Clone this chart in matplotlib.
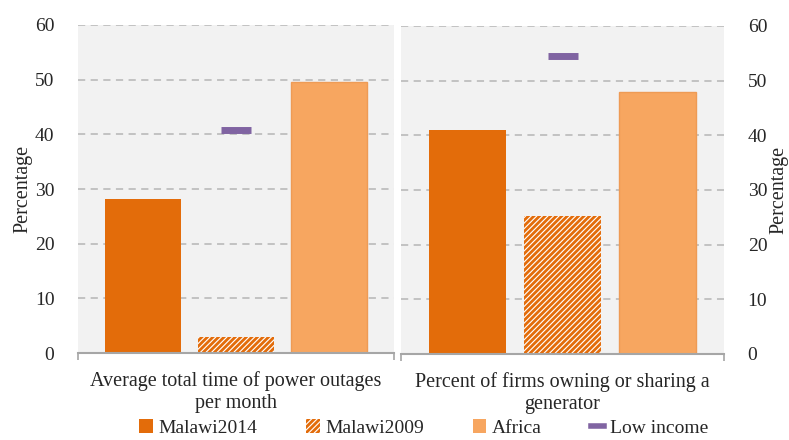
import matplotlib.pyplot as plt
import matplotlib.patches as mpatches
from matplotlib.lines import Line2D

plt.rcParams['font.family'] = ['Liberation Serif', 'DejaVu Serif']
plt.rcParams['hatch.linewidth'] = 2.0

series = ['Malawi2014', 'Malawi2009', 'Africa']
panels = ['Average total time of power outages\nper month',
          'Percent of firms owning or sharing a\ngenerator']
malawi2014 = [28.2, 40.9]
malawi2009 = [2.9, 25.2]
africa = [49.6, 48.0]
low_income = [40.8, 54.5]
yticks = [0, 10, 20, 30, 40, 50, 60]

c2014 = '#E36C0A'
cafr = '#F7A660'
clow = '#8064A2'
bg = '#F2F2F2'
grid_c = '#BFBFBF'
axis_c = '#A6A6A6'
txt = '#262626'

fig = plt.figure(figsize=(7.89, 4.40), dpi=100)
ax1 = fig.add_axes([0.0989, 0.1977, 0.4005, 0.7455])
ax2 = fig.add_axes([0.5083, 0.1955, 0.4094, 0.7455])

for i, ax in enumerate([ax1, ax2]):
    ax.set_facecolor(bg)
    ax.set_axisbelow(True)
    ax.bar(-1, malawi2014[i], width=0.81, color=c2014, linewidth=0)
    ax.bar(0, malawi2009[i], width=0.81, color='white', edgecolor=c2014,
           hatch='//////', linewidth=0)
    ax.bar(1, africa[i], width=0.81, color=cafr, edgecolor='#EE9B55', linewidth=1)
    ax.plot([0], [low_income[i]], marker='_', color=clow, markersize=21,
            markeredgewidth=5, linestyle='none')
    ax.set_xlim(-1.7, 1.7)
    ax.set_ylim(0, 60)
    ax.set_yticks(yticks)
    ax.set_xticks([0])
    ax.set_xticklabels([panels[i]], fontsize=14.5, color=txt, linespacing=1.2)
    ax.set_xticks([-1.7, 1.7], minor=True)
    ax.tick_params(axis='x', which='major', length=0, pad=13)
    ax.tick_params(axis='x', which='minor', length=5, width=1.2, color=axis_c,
                   direction='out')
    ax.tick_params(axis='y', length=0, labelsize=14, labelcolor=txt, pad=17)
    ax.yaxis.grid(True, color=grid_c, linestyle=(0, (4, 3)), linewidth=1.3)
    for s in ['top', 'left', 'right']:
        ax.spines[s].set_visible(False)
    ax.spines['bottom'].set_color(axis_c)
    ax.spines['bottom'].set_linewidth(1.5)
    ax.set_ylabel('Percentage', fontsize=14.5, color=txt)

ax1.yaxis.set_label_coords(-0.145, 0.5)
ax2.yaxis.tick_right()
ax2.yaxis.set_label_position('right')
ax2.yaxis.set_label_coords(1.142, 0.5)

handles = [
    mpatches.Patch(facecolor=c2014, edgecolor='none', label=series[0]),
    mpatches.Patch(facecolor='white', edgecolor=c2014, hatch='//////',
                   linewidth=0, label=series[1]),
    mpatches.Patch(facecolor=cafr, edgecolor='none', label=series[2]),
    Line2D([0], [0], color=clow, linewidth=4, label='Low income'),
]
fig.legend(handles=handles, loc='lower center', bbox_to_anchor=(0.537, -0.032),
           ncol=4, frameon=False, fontsize=14, handlelength=0.7,
           handleheight=0.7, handletextpad=0.3, columnspacing=2.5,
           labelcolor=txt)

fig.savefig('out.png', dpi=100)
